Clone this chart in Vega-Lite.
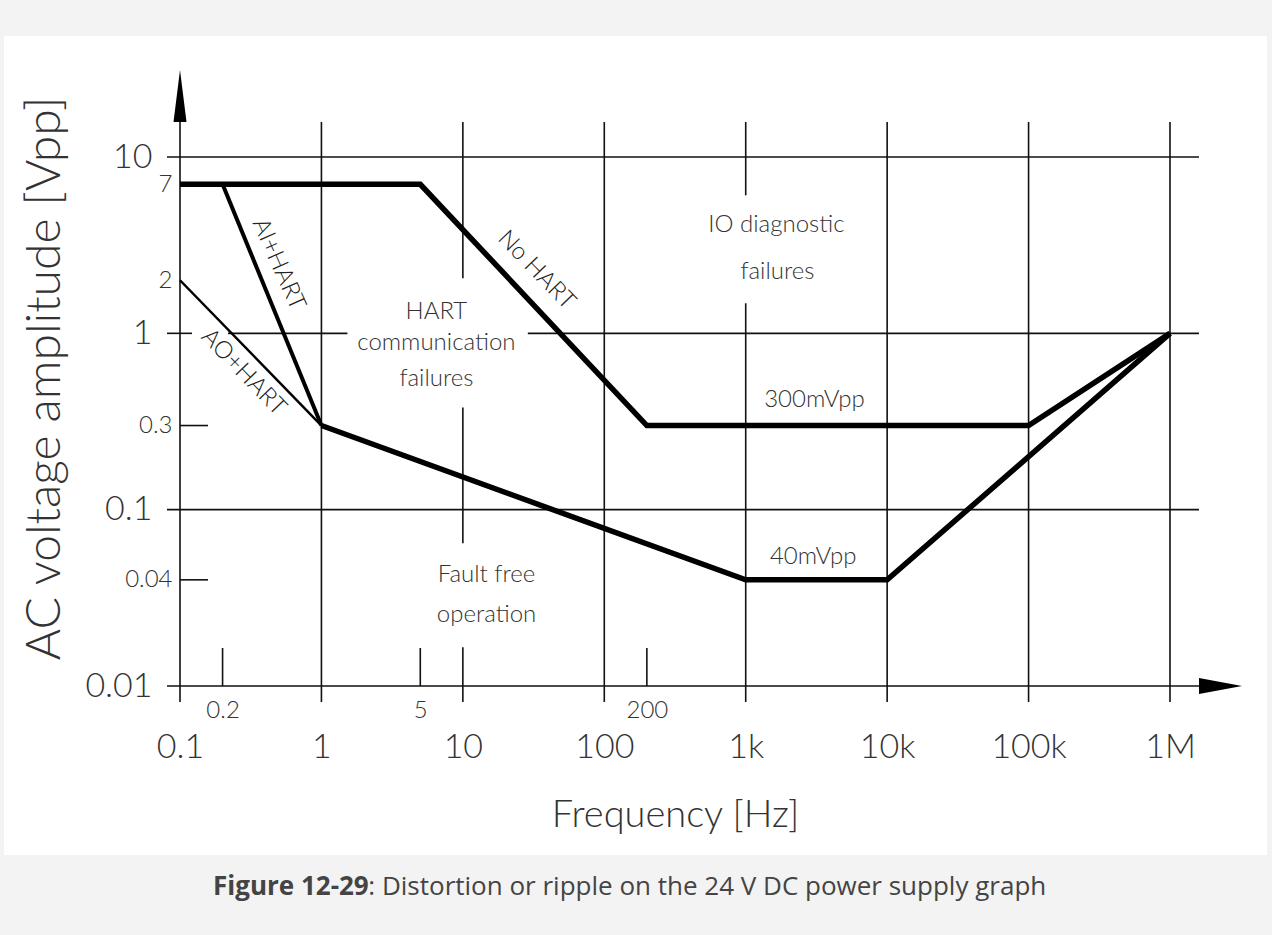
{
  "$schema": "https://vega.github.io/schema/vega-lite/v6.json",
  "width": 1263,
  "height": 819,
  "autosize": {"type": "none"},
  "padding": {"left": 4, "top": 36, "right": 5, "bottom": 80},
  "background": "#f3f3f3",
  "config": {"view": {"fill": "white", "stroke": null}},
  "title": {
    "text": "Figure 12-29",
    "subtitle": "\u200b\u00a0\u00a0\u00a0\u00a0\u00a0\u00a0\u00a0\u00a0\u00a0\u00a0\u00a0\u00a0\u00a0\u00a0\u00a0\u00a0\u00a0\u00a0\u00a0\u00a0\u00a0\u00a0\u00a0: Distortion or ripple on the 24 V DC power supply graph",
    "orient": "bottom",
    "anchor": "start",
    "frame": "group",
    "dx": 209,
    "offset": 19,
    "font": "Open Sans",
    "fontSize": 26,
    "fontWeight": "bold",
    "color": "#444",
    "subtitleFont": "Open Sans",
    "subtitleFontSize": 26,
    "subtitleFontWeight": "normal",
    "subtitleColor": "#444",
    "subtitlePadding": -26
  },
  "datasets": {
    "curves": [
      {"series": "No HART", "ord": 1, "f": 0.1, "v": 7},
      {"series": "No HART", "ord": 2, "f": 5, "v": 7},
      {"series": "No HART", "ord": 3, "f": 200, "v": 0.3},
      {"series": "No HART", "ord": 4, "f": 100000, "v": 0.3},
      {"series": "No HART", "ord": 5, "f": 1000000, "v": 1},
      {"series": "AI+HART", "ord": 1, "f": 0.2, "v": 7},
      {"series": "AI+HART", "ord": 2, "f": 1, "v": 0.3},
      {"series": "AO+HART", "ord": 1, "f": 0.1, "v": 2},
      {"series": "AO+HART", "ord": 2, "f": 1, "v": 0.3},
      {"series": "Fault free boundary", "ord": 1, "f": 1, "v": 0.3},
      {"series": "Fault free boundary", "ord": 2, "f": 1000, "v": 0.04},
      {"series": "Fault free boundary", "ord": 3, "f": 10000, "v": 0.04},
      {"series": "Fault free boundary", "ord": 4, "f": 1000000, "v": 1}
    ],
    "segs": [
      {"f": 0.0809, "f2": 1603000, "v": 10, "v2": 10},
      {"f": 0.0809, "f2": 0.1216, "v": 1, "v2": 1},
      {"f": 0.2185, "f2": 1.527, "v": 1, "v2": 1},
      {"f": 28.8, "f2": 1603000, "v": 1, "v2": 1},
      {"f": 0.0809, "f2": 1603000, "v": 0.1, "v2": 0.1},
      {"f": 0.0809, "f2": 1603000, "v": 0.01, "v2": 0.01},
      {"f": 0.1, "f2": 0.1578, "v": 0.3, "v2": 0.3},
      {"f": 0.1, "f2": 0.1578, "v": 0.04, "v2": 0.04},
      {"f": 0.1, "f2": 0.1, "v": 0.00811, "v2": 15.8},
      {"f": 1, "f2": 1, "v": 0.00811, "v2": 15.8},
      {"f": 10, "f2": 10, "v": 2.05, "v2": 15.8},
      {"f": 10, "f2": 10, "v": 0.0644, "v2": 0.38},
      {"f": 10, "f2": 10, "v": 0.00811, "v2": 0.01656},
      {"f": 100, "f2": 100, "v": 0.00811, "v2": 15.8},
      {"f": 1000, "f2": 1000, "v": 6.06, "v2": 15.8},
      {"f": 1000, "f2": 1000, "v": 0.00811, "v2": 1.48},
      {"f": 10000, "f2": 10000, "v": 0.00811, "v2": 15.8},
      {"f": 100000, "f2": 100000, "v": 0.00811, "v2": 15.8},
      {"f": 1000000, "f2": 1000000, "v": 0.00811, "v2": 15.8},
      {"f": 0.2, "f2": 0.2, "v": 0.01, "v2": 0.01643},
      {"f": 5, "f2": 5, "v": 0.01, "v2": 0.01643},
      {"f": 200, "f2": 200, "v": 0.01, "v2": 0.01643}
    ],
    "arrows": [
      {"dir": "up", "f": 0.1, "v": 15.8},
      {"dir": "right", "f": 1603000, "v": 0.01}
    ],
    "notes": [
      {"label": "AI+HART", "f": 0.497, "v": 2.46},
      {"label": "AO+HART", "f": 0.281, "v": 0.601},
      {"label": "No HART", "f": 33.1, "v": 2.28},
      {"label": "HART", "f": 6.5, "v": 1.316},
      {"label": "communication", "f": 6.5, "v": 0.878},
      {"label": "failures", "f": 6.5, "v": 0.548},
      {"label": "IO diagnostic", "f": 1648, "v": 4.1},
      {"label": "failures", "f": 1676, "v": 2.22},
      {"label": "300mVpp", "f": 3062, "v": 0.417},
      {"label": "40mVpp", "f": 3000, "v": 0.0536},
      {"label": "Fault free", "f": 14.7, "v": 0.0424},
      {"label": "operation", "f": 14.7, "v": 0.02515}
    ]
  },
  "encoding": {
    "x": {
      "field": "f",
      "type": "quantitative",
      "scale": {"type": "log", "domain": [0.1, 1000000], "range": [176, 1166], "nice": false},
      "axis": {
        "orient": "bottom",
        "offset": -169,
        "values": [0.1, 0.2, 1, 5, 10, 100, 200, 1000, 10000, 100000, 1000000],
        "labelExpr": "datum.value >= 1000000 ? '1M' : datum.value >= 1000 ? (datum.value / 1000) + 'k' : '' + datum.value",
        "domain": false,
        "ticks": false,
        "grid": false,
        "labelFont": "Lato",
        "labelFontWeight": 300,
        "labelColor": "#333",
        "labelBaseline": "middle",
        "labelFlush": false,
        "labelOverlap": false,
        "labelFontSize": {"condition": {"test": "indexof([0.2, 5, 200], datum.value) >= 0", "value": 24}, "value": 34},
        "labelPadding": {"condition": {"test": "indexof([0.2, 5, 200], datum.value) >= 0", "value": 24}, "value": 61},
        "title": "Frequency [Hz]",
        "titleFont": "Lato",
        "titleFontWeight": 300,
        "titleFontSize": 38,
        "titleColor": "#333",
        "titleX": 671,
        "titleY": 129,
        "titleAlign": "center",
        "titleBaseline": "middle"
      }
    },
    "y": {
      "field": "v",
      "type": "quantitative",
      "scale": {"type": "log", "domain": [0.01, 10], "range": [650, 121], "nice": false},
      "axis": {
        "orient": "left",
        "offset": -176,
        "values": [0.01, 0.04, 0.1, 0.3, 1, 2, 7, 10],
        "labelExpr": "'' + datum.value",
        "domain": false,
        "ticks": false,
        "grid": false,
        "labelFont": "Lato",
        "labelFontWeight": 300,
        "labelColor": "#333",
        "labelBaseline": "middle",
        "labelFlush": false,
        "labelOverlap": false,
        "labelFontSize": {"condition": {"test": "indexof([0.01, 0.1, 1, 10], datum.value) >= 0", "value": 34}, "value": 24},
        "labelPadding": {"condition": {"test": "indexof([0.01, 0.1, 1, 10], datum.value) >= 0", "value": 28}, "value": 8},
        "title": "AC voltage amplitude [Vpp]",
        "titleFont": "Lato",
        "titleFontWeight": 300,
        "titleFontSize": 48,
        "titleColor": "#333",
        "titleAngle": 270,
        "titleX": -135,
        "titleY": 342,
        "titleAlign": "center",
        "titleBaseline": "middle"
      }
    }
  },
  "layer": [
    {
      "data": {"name": "segs"},
      "mark": {"type": "rule", "color": "#111", "strokeWidth": 1.6},
      "encoding": {"x2": {"field": "f2"}, "y2": {"field": "v2"}}
    },
    {
      "data": {"name": "arrows"},
      "mark": {"type": "point", "filled": true, "color": "#000", "opacity": 1, "size": 2704, "strokeWidth": 0},
      "encoding": {
        "shape": {
          "field": "dir",
          "type": "nominal",
          "scale": {"domain": ["up", "right"], "range": ["M0,-2L0.25,0L-0.25,0Z", "M1.654,0L0,-0.308L0,0.308Z"]},
          "legend": null
        }
      }
    },
    {
      "data": {"name": "curves"},
      "transform": [{"filter": {"field": "series", "oneOf": ["No HART", "Fault free boundary"]}}],
      "mark": {"type": "line", "color": "#000", "strokeWidth": 5.5, "strokeJoin": "miter"},
      "encoding": {"detail": {"field": "series", "type": "nominal"}, "order": {"field": "ord", "type": "quantitative"}}
    },
    {
      "data": {"name": "curves"},
      "transform": [{"filter": {"field": "series", "equal": "AI+HART"}}],
      "mark": {"type": "line", "color": "#000", "strokeWidth": 4},
      "encoding": {"order": {"field": "ord", "type": "quantitative"}}
    },
    {
      "data": {"name": "curves"},
      "transform": [{"filter": {"field": "series", "equal": "AO+HART"}}],
      "mark": {"type": "line", "color": "#000", "strokeWidth": 2.5},
      "encoding": {"order": {"field": "ord", "type": "quantitative"}}
    },
    {
      "data": {"name": "notes"},
      "transform": [{"filter": {"field": "label", "equal": "AI+HART"}}],
      "mark": {"type": "text", "font": "Lato", "fontWeight": 300, "fontSize": 24, "color": "#222", "angle": 66, "align": "center", "baseline": "middle"},
      "encoding": {"text": {"field": "label"}}
    },
    {
      "data": {"name": "notes"},
      "transform": [{"filter": {"field": "label", "oneOf": ["AO+HART", "No HART"]}}],
      "mark": {"type": "text", "font": "Lato", "fontWeight": 300, "fontSize": 24, "color": "#222", "angle": 46, "align": "center", "baseline": "middle"},
      "encoding": {"text": {"field": "label"}}
    },
    {
      "data": {"name": "notes"},
      "transform": [{"filter": {"not": {"field": "label", "oneOf": ["AI+HART", "AO+HART", "No HART"]}}}],
      "mark": {"type": "text", "font": "Lato", "fontWeight": 300, "fontSize": 24, "color": "#333", "align": "center", "baseline": "middle"},
      "encoding": {"text": {"field": "label"}}
    }
  ]
}
